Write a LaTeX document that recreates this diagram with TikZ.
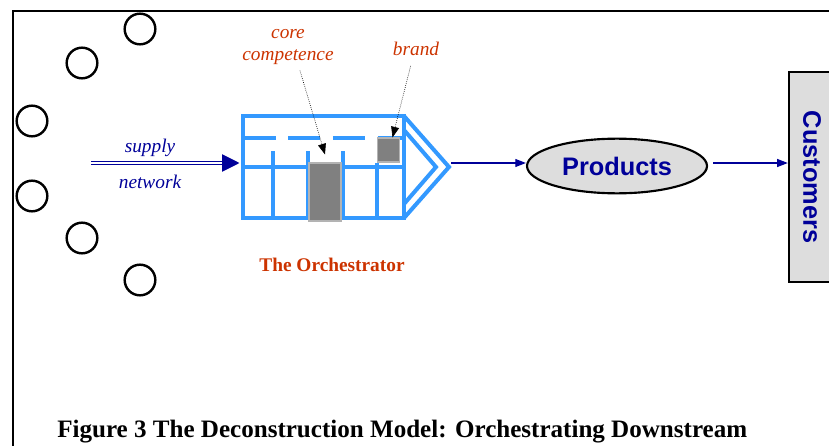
\documentclass[tikz,border=0pt]{standalone}
\usepackage{fontspec}
\setmainfont{Liberation Serif}
\setsansfont{Liberation Sans}
\usetikzlibrary{arrows.meta,shapes.geometric,calc}
\definecolor{orchblue}{RGB}{51,153,255}
\definecolor{deepblue}{RGB}{0,0,153}
\definecolor{rust}{RGB}{204,51,0}
\definecolor{boxgray}{RGB}{128,128,128}
\definecolor{panelgray}{RGB}{221,221,221}

\begin{document}
\begin{tikzpicture}[x=0.75pt,y=-0.75pt,
        ring/.style={line width=1.8pt},
        wall/.style={orchblue,line width=3pt},
        block/.style={draw=boxgray!60!white,fill=boxgray,line width=0.8pt,inner sep=0pt},
        remark/.style={font=\fontsize{14.5}{16.5}\selectfont\itshape},
        flow/.style={deepblue,line width=0.8pt,-{Triangle[length=8pt,width=6pt]}},
        pointer/.style={densely dotted,line width=0.5pt,-{Triangle[length=8pt,width=6pt]}}]

        \useasboundingbox (0,0) rectangle (829,446);
        \clip (0,0) rectangle (829,446);

        % frame
        \draw[line width=1.2pt] (13,450) -- (13,11) -- (835,11);

        % the network around
        \foreach \p in {(140,29),(82,63),(32,121),(32,196),(82,238),(140,280)}
            \draw[ring] \p circle (11.5pt);

        % the orchestrator
        \node[draw=orchblue,line width=3pt,minimum width=120.4pt,minimum height=76.5pt,inner sep=0pt] (orch) at (323.75,167) {};
        \draw[wall,dash pattern=on 24pt off 9.5pt] (243.5,138) -- (404,138);
        \draw[wall] (243.5,167) -- (404,167);
        \foreach \x in {273,308,343}
            \draw[wall] (\x,151) -- (\x,218);
        \draw[wall] (377,163) -- (377,218);
        \draw[wall] (404,116) -- (449,167) -- (404,218);
        \draw[wall] (404,130) -- (436,167) -- (404,204);
        \coordinate (tip) at (451,163);

        \node[block,minimum width=24pt,minimum height=43.5pt] (corebox) at (325,192) {};
        \node[block,minimum width=17pt,minimum height=18pt] (brandbox) at (388.5,150) {};

        \node[remark,rust,align=center] (corelabel) at (288,47) {core\\competence};
        \node[remark,rust] (brandlabel) at (416,49) {brand};
        \draw[pointer] ([xshift=9pt,yshift=-1pt]corelabel.south) -- ([yshift=6pt]corebox.north);
        \draw[pointer] ([xshift=-4pt,yshift=-4pt]brandlabel.south) -- ([xshift=3pt]brandbox.north);

        \node[rust,font=\fontsize{14.5}{17}\selectfont\bfseries] (orchname) at (332,265) {The Orchestrator};

        % supply network
        \coordinate (net) at (91,163);
        \draw[deepblue,line width=0.7pt,double=white,double distance=1.4pt,shorten >=1.5pt,-{Triangle[length=13pt,width=13pt]}] (net) -- (net -| orch.west);
        \node[remark,deepblue] (supply) at (150,148) {supply};
        \node[remark,deepblue] (network) at (150,182) {network};

        % products and customers
        \node[ellipse,draw,line width=1.6pt,fill=panelgray,minimum width=135pt,minimum height=41pt,inner sep=0pt,
              text=deepblue,font=\sffamily\bfseries\fontsize{19}{22}\selectfont] (prod) at (617,166) {Products};
        \node[draw,line width=1.8pt,fill=panelgray,minimum width=34.5pt,minimum height=157.5pt,inner sep=0pt] (cust) at (812,177) {};
        \node[rotate=-90,text=deepblue,font=\sffamily\bfseries\fontsize{19}{22}\selectfont] (custname) at (cust.center) {Customers};

        \draw[flow] (tip) -- (tip -| prod.west);
        \draw[flow,shorten <=4pt] (prod.east |- tip) -- (cust.west |- tip);

        \node[anchor=base west,inner sep=0pt,font=\fontsize{18.8}{22}\selectfont\bfseries] (caption) at (57,437) {Figure 3 The Deconstruction Model: Orchestrating Downstream};

    \end{tikzpicture}
\end{document}
